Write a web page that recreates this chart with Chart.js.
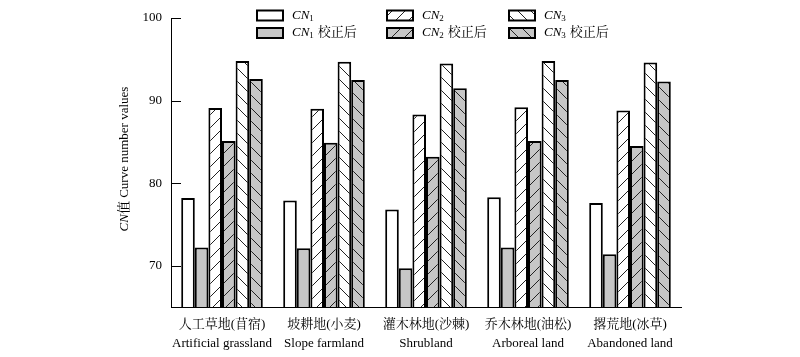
<!DOCTYPE html>
<html><head><meta charset="utf-8">
<script src="https://cdn.jsdelivr.net/npm/chart.js@4/dist/chart.umd.min.js"></script>
<style>html,body{margin:0;padding:0;background:#fff}#wrap{width:800px;height:357px}</style>
</head><body><div id="wrap"><canvas id="c" width="800" height="357"></canvas></div>
<script>
const categories = [
  ["人工草地(苜宿)", "Artificial grassland"],
  ["坡耕地(小麦)", "Slope farmland"],
  ["灌木林地(沙棘)", "Shrubland"],
  ["乔木林地(油松)", "Arboreal land"],
  ["撂荒地(冰草)", "Abandoned land"]
];
const cn1  = [78.2, 77.9, 76.8, 78.3, 77.6];
const cn1c = [72.2, 72.1, 69.7, 72.2, 71.4];
const cn2  = [89.1, 89.0, 88.3, 89.2, 88.8];
const cn2c = [85.1, 84.9, 83.2, 85.1, 84.5];
const cn3  = [94.8, 94.7, 94.5, 94.8, 94.6];
const cn3c = [92.6, 92.5, 91.5, 92.5, 92.3];
const yTicks = [70, 80, 90, 100];
const seriesLabels = ["CN1", "CN1 校正后", "CN2", "CN2 校正后", "CN3", "CN3 校正后"];

const SERIF = '"Liberation Serif", "Times New Roman", "Noto Serif CJK SC", "Noto Sans CJK SC", serif';
const GRAY = '#c6c6c6';

const mainCtx = document.getElementById('c').getContext('2d');
function hatch(bg, dir) {
  const S = 13;
  const c = document.createElement('canvas');
  c.width = S; c.height = S;
  const x = c.getContext('2d');
  x.fillStyle = bg; x.fillRect(0, 0, S, S);
  x.strokeStyle = '#222'; x.lineWidth = 1;
  x.beginPath();
  if (dir === '/') {
    x.moveTo(-1, S + 1); x.lineTo(S + 1, -1);
    x.moveTo(-2, 1); x.lineTo(1, -2);
    x.moveTo(S - 1, S + 2); x.lineTo(S + 2, S - 1);
  } else {
    x.moveTo(-1, -1); x.lineTo(S + 1, S + 1);
    x.moveTo(S - 1, -2); x.lineTo(S + 2, 1);
    x.moveTo(-2, S - 1); x.lineTo(1, S + 2);
  }
  x.stroke();
  return mainCtx.createPattern(c, 'repeat');
}
const fills = ['#ffffff', GRAY, hatch('#ffffff', '/'), hatch(GRAY, '/'), hatch('#ffffff', '\\'), hatch(GRAY, '\\')];
const values = [cn1, cn1c, cn2, cn2c, cn3, cn3c];

const datasets = values.map((v, i) => ({
  label: seriesLabels[i],
  data: v,
  backgroundColor: fills[i],
  borderColor: '#000',
  borderWidth: 2,
  borderSkipped: 'bottom',
  categoryPercentage: 0.8,
  barPercentage: 1.0
}));

function drawCN(ctx, x, y, sub, suffix) {
  ctx.fillStyle = '#000';
  ctx.textBaseline = 'middle';
  ctx.textAlign = 'left';
  ctx.font = 'italic 13px ' + SERIF;
  ctx.fillText('CN', x, y);
  let w = ctx.measureText('CN').width;
  ctx.font = '9px ' + SERIF;
  ctx.fillText(sub, x + w, y + 3);
  w += ctx.measureText(sub).width;
  if (suffix) {
    ctx.font = '13px ' + SERIF;
    ctx.fillText(suffix, x + w + 4, y);
  }
}

const decor = {
  id: 'decor',
  afterDraw(chart) {
    const ctx = chart.ctx;
    const ys = chart.scales.y;
    const area = chart.chartArea;
    ctx.save();
    ctx.strokeStyle = '#000'; ctx.lineWidth = 1;
    yTicks.forEach(v => {
      const py = Math.round(ys.getPixelForValue(v)) + 0.5;
      ctx.beginPath(); ctx.moveTo(area.left, py); ctx.lineTo(area.left + 10, py); ctx.stroke();
    });
    ctx.save();
    ctx.translate(125, 159);
    ctx.rotate(-Math.PI / 2);
    ctx.font = 'italic 13px ' + SERIF;
    const t1 = 'CN';
    const t2 = '值 Curve number values';
    const w1 = ctx.measureText(t1).width;
    ctx.font = '13px ' + SERIF;
    const w2 = ctx.measureText(t2).width;
    const start = -(w1 + w2) / 2;
    ctx.fillStyle = '#000';
    ctx.textBaseline = 'middle'; ctx.textAlign = 'left';
    ctx.font = 'italic 13px ' + SERIF;
    ctx.fillText(t1, start, 0);
    ctx.font = '13px ' + SERIF;
    ctx.fillText(t2, start + w1, 0);
    ctx.restore();
    const cols = [257, 387, 509];
    const rows = [15.5, 33];
    for (let s = 0; s < 3; s++) {
      for (let r = 0; r < 2; r++) {
        const idx = s * 2 + r;
        const bx = cols[s], by = rows[r] - 5;
        ctx.fillStyle = fills[idx];
        ctx.fillRect(bx, by, 26, 10);
        ctx.strokeStyle = '#000'; ctx.lineWidth = 2;
        ctx.strokeRect(bx, by, 26, 10);
        drawCN(ctx, bx + 35, rows[r], String(s + 1), r === 1 ? '校正后' : '');
      }
    }
    ctx.restore();
  }
};

new Chart(document.getElementById('c'), {
  type: 'bar',
  data: { labels: categories, datasets },
  plugins: [decor],
  options: {
    responsive: false,
    animation: false,
    layout: { padding: { left: 114, right: 119, top: 18, bottom: 0 } },
    plugins: { legend: { display: false }, tooltip: { enabled: false } },
    scales: {
      x: {
        grid: { display: false, drawTicks: false },
        border: { display: true, color: '#000', width: 1 },
        ticks: { color: '#000', font: { family: SERIF, size: 13, lineHeight: 1.45 }, padding: 8, maxRotation: 0, autoSkip: false },
        afterFit(scale) { scale.height = 50; }
      },
      y: {
        min: 65, max: 100,
        grid: { display: false, drawTicks: false },
        border: { display: true, color: '#000', width: 1 },
        ticks: { color: '#000', font: { family: SERIF, size: 13 }, padding: 9 },
        afterBuildTicks(scale) { scale.ticks = yTicks.map(v => ({ value: v })); },
        afterFit(scale) { scale.width = 57; }
      }
    }
  }
});
</script></body></html>
